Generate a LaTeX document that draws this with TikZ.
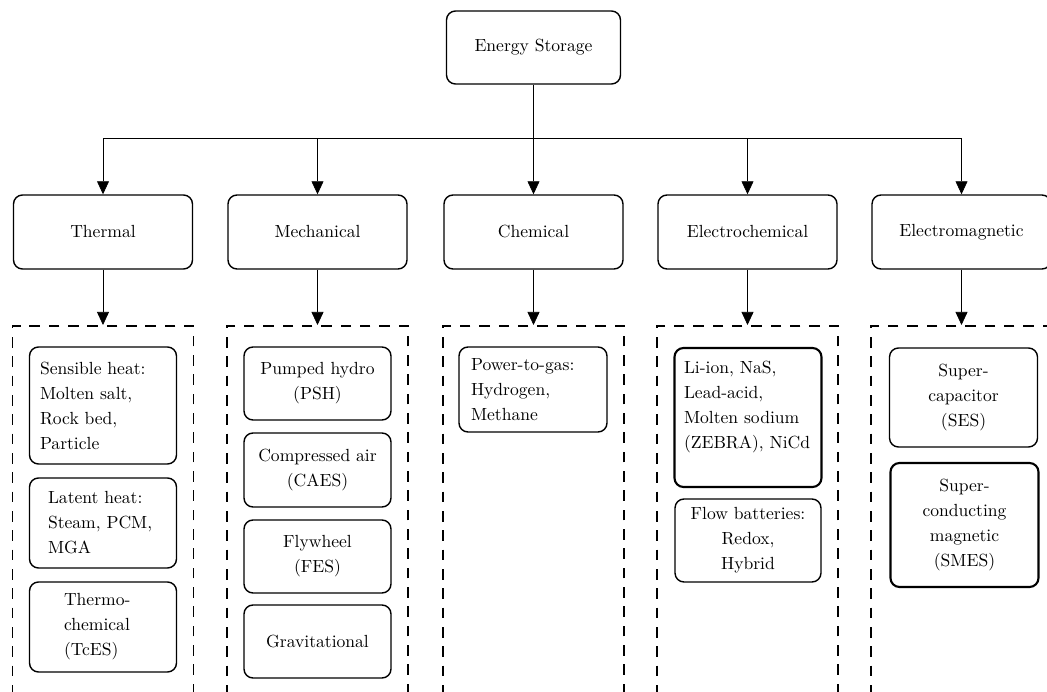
\documentclass[tikz,border=0pt]{standalone}
\usepackage{tikz}
\usetikzlibrary{arrows.meta}

\begin{document}
\begin{tikzpicture}[
    catbox/.style={draw, thick, rounded corners=0.18cm, minimum width=3.58cm, minimum height=1.48cm},
    itembox/.style={draw, thick, rounded corners=0.18cm, minimum width=2.94cm, align=center, font=\fontsize{10}{14.2}\selectfont},
    groupbox/.style={draw, line width=1pt, dash pattern=on 6pt off 5pt, minimum width=3.62cm, minimum height=8cm, anchor=north},
    link/.style={-{Triangle[length=7.4pt,width=6.8pt]}}
]
\useasboundingbox (0,0) rectangle (20.94,-13.84);

% Energy Storage
\node[catbox, minimum width=3.48cm, minimum height=1.46cm] (es) at (10.67,-0.95) {Energy Storage};
\coordinate (branch) at (10.67,-2.76);

% Categorie
\node[catbox] (thermal) at (2.06,-4.64) {Thermal};
\node[catbox] (mech) at (6.35,-4.64) {Mechanical};
\node[catbox] (chem) at (10.67,-4.64) {Chemical};
\node[catbox] (elchem) at (14.95,-4.64) {Electrochemical};
\node[catbox] (elmag) at (19.23,-4.64) {Electromagnetic};

% Gruppi
\node[groupbox] (thermalgrp) at (2.06,-6.5) {};
\node[groupbox] (mechgrp) at (6.35,-6.5) {};
\node[groupbox] (chemgrp) at (10.67,-6.5) {};
\node[groupbox] (elchemgrp) at (14.95,-6.5) {};
\node[groupbox] (elmaggrp) at (19.23,-6.5) {};

% Thermal
\node[itembox, align=left, text width=2.52cm, inner xsep=0.2cm, minimum height=2.34cm] (sensible) at (2.06,-8.11) {Sensible heat:\\Molten salt,\\Rock bed,\\Particle};
\node[itembox, align=left, text width=2.2cm, inner xsep=0.36cm, minimum height=1.8cm] (latent) at (2.06,-10.46) {Latent heat:\\Steam, PCM,\\MGA};
\node[itembox, align=left, text width=1.56cm, inner xsep=0.68cm, minimum height=1.8cm] (tces) at (2.06,-12.54) {Thermo-\\chemical\\(TcES)};

% Mechanical
\node[itembox, minimum height=1.46cm] (psh) at (6.35,-7.67) {Pumped hydro\\(PSH)};
\node[itembox, minimum height=1.48cm] (caes) at (6.35,-9.40) {Compressed air\\(CAES)};
\node[itembox, minimum height=1.46cm] (fes) at (6.35,-11.13) {Flywheel\\(FES)};
\node[itembox, minimum height=1.46cm] (grav) at (6.35,-12.83) {Gravitational};

% Chemical
\node[itembox, align=left, text width=2.48cm, inner xsep=0.24cm, minimum height=1.7cm] (ptg) at (10.66,-7.79) {Power-to-gas:\\Hydrogen,\\Methane};

% Electrochemical
\node[itembox, line width=1.2pt, align=left, text width=2.56cm, inner xsep=0.18cm, minimum height=2.78cm] (liion) at (14.96,-8.35) {Li-ion, NaS,\\Lead-acid,\\Molten sodium\\(ZEBRA), NiCd\\ \mbox{}};
\node[itembox, minimum width=2.92cm, minimum height=1.66cm] (flow) at (14.96,-10.81) {Flow batteries:\\Redox,\\Hybrid};

% Electromagnetic
\node[itembox, minimum width=2.96cm, minimum height=1.98cm] (ses) at (19.27,-7.95) {Super-\\capacitor\\(SES)};
\node[itembox, line width=1.2pt, minimum width=2.96cm, minimum height=2.48cm] (smes) at (19.29,-10.50) {Super-\\conducting\\magnetic\\(SMES)};

% Frecce
\draw (es) -- (branch);
\foreach \cat in {thermal,mech,chem,elchem,elmag}
    \draw[link] (branch) -| (\cat.north);
\foreach \cat in {thermal,mech,chem,elchem,elmag}
    \draw[link] (\cat) -- (\cat grp);
\end{tikzpicture}
\end{document}
